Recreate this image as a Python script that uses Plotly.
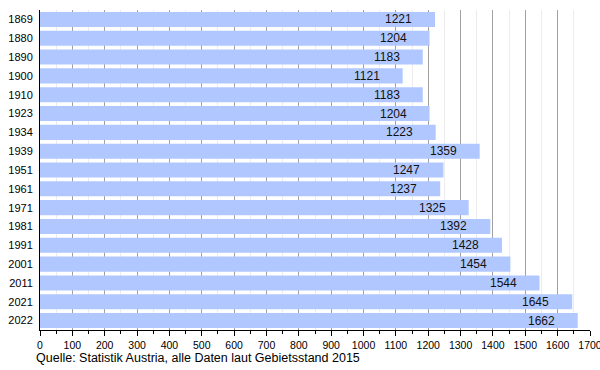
import plotly.graph_objects as go

years = ["1869", "1880", "1890", "1900", "1910", "1923", "1934", "1939", "1951", "1961",
         "1971", "1981", "1991", "2001", "2011", "2021", "2022"]
population = [1221, 1204, 1183, 1121, 1183, 1204, 1223, 1359, 1247, 1237,
              1325, 1392, 1428, 1454, 1544, 1645, 1662]
x_ticks = list(range(0, 1701, 100))
source = "Quelle: Statistik Austria, alle Daten laut Gebietsstand 2015"

FONT = "Liberation Sans, Arial, sans-serif"
rows = list(range(len(years)))

fig = go.Figure()
fig.add_trace(go.Bar(
    y=rows, x=population, orientation="h",
    marker=dict(color="#b0c8ff", line=dict(width=0)),
    hoverinfo="skip",
))

annotations = [
    dict(x=v, y=r, xref="x", yref="y", text=str(v), showarrow=False,
         xanchor="right", xshift=-21, font=dict(family=FONT, size=12, color="#111"))
    for r, v in zip(rows, population)
]
annotations.append(dict(x=0, y=0, xref="paper", yref="paper", text=source, showarrow=False,
                        xanchor="left", yanchor="top", xshift=-6, yshift=-19,
                        font=dict(family=FONT, size=12.5, color="#000")))

fig.update_layout(
    width=600, height=370,
    margin=dict(l=40, r=10, t=9.5, b=40, autoexpand=False),
    plot_bgcolor="white", paper_bgcolor="white",
    bargap=0.2,
    showlegend=False,
    annotations=annotations,
    xaxis=dict(
        range=[0, 1700], tickvals=x_ticks, ticktext=[str(t) for t in x_ticks],
        showgrid=True, gridcolor="#a0a0a0", gridwidth=1,
        minor=dict(dtick=50, tick0=0, showgrid=True, gridcolor="#ececec",
                   ticks="outside", ticklen=3, tickcolor="black"),
        ticks="outside", ticklen=5, tickcolor="black",
        showline=True, linecolor="black", linewidth=1,
        zeroline=False, automargin=False, ticklabeloverflow="allow",
        tickfont=dict(family=FONT, size=10.5, color="#000"),
        fixedrange=True,
    ),
    yaxis=dict(
        range=[len(years) - 0.5, -0.5],
        tickvals=rows, ticktext=years,
        showline=True, linecolor="black", linewidth=1,
        ticks="", showgrid=False, zeroline=False, automargin=False,
        tickfont=dict(family=FONT, size=11, color="#000"),
        ticklabelstandoff=4,
        fixedrange=True,
    ),
)

fig.write_html(
    "out.html",
    config={"displayModeBar": False},
    post_script="document.body.style.margin='0';document.body.style.overflow='hidden';",
)
